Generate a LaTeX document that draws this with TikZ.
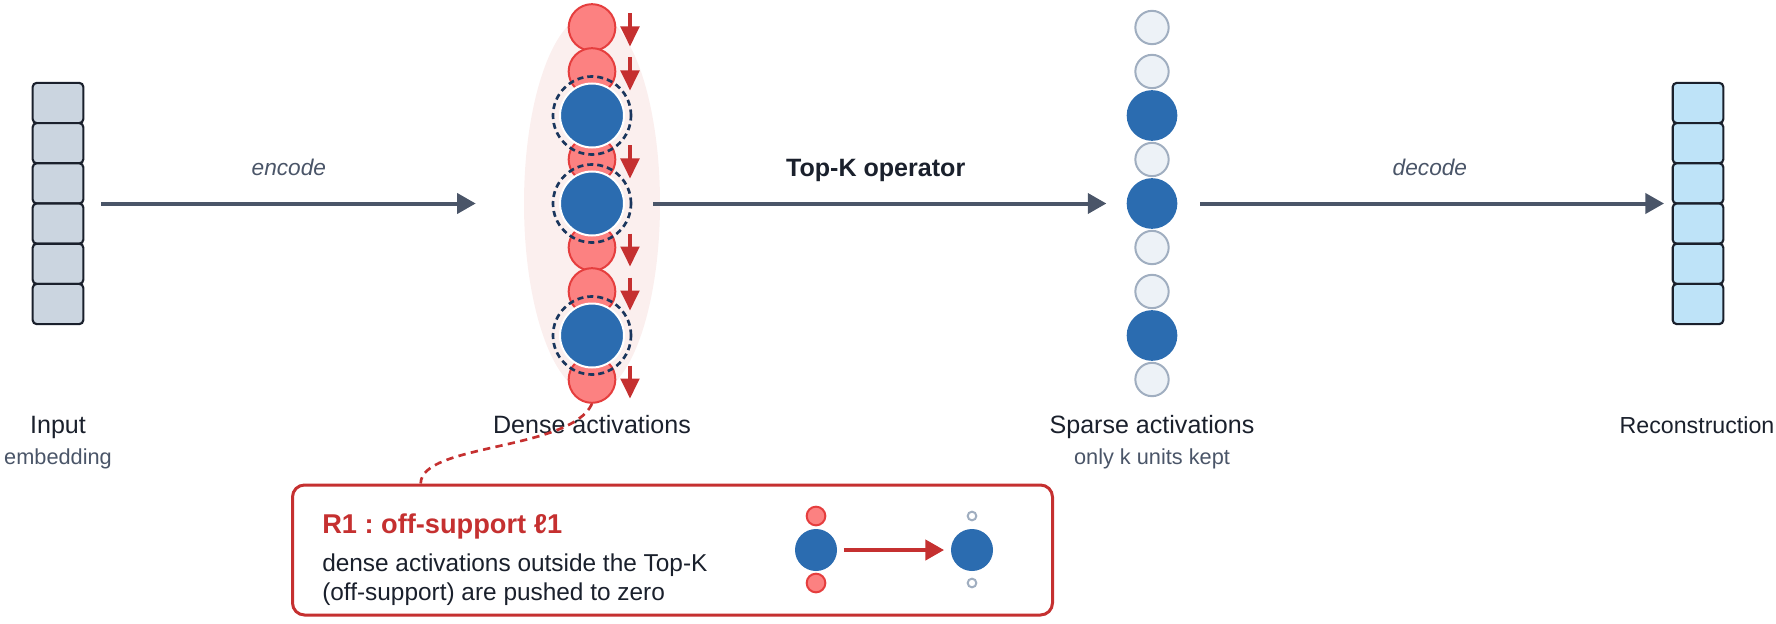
\documentclass[tikz,border=0pt]{standalone}
\usepackage{fontspec}
\setmainfont{Liberation Sans}
\frenchspacing
\usetikzlibrary{calc,shapes,arrows.meta,fit,positioning}

\definecolor{inkdark}{HTML}{1A202C}
\definecolor{inkgray}{HTML}{4A5568}
\definecolor{inpfill}{HTML}{CBD5E0}
\definecolor{recfill}{HTML}{BEE3F8}
\definecolor{redfill}{HTML}{FC8181}
\definecolor{redline}{HTML}{E53E3E}
\definecolor{reddark}{HTML}{C53030}
\definecolor{unitblue}{HTML}{2B6CB0}
\definecolor{ringnavy}{HTML}{1A365D}
\definecolor{offfill}{HTML}{EDF2F7}
\definecolor{offline}{HTML}{A0AEC0}
\definecolor{halofill}{HTML}{FBEFEE}

% six-cell vector, named #1 (cells #10..#15), centred at x=#2
\newcommand{\tikzVecStack}[3]{
  \foreach \i in {0,...,5}
    \node[cell,fill=#3] (#1\i) at (#2,103+40.2*\i) {};
  \node[fit=(#10)(#15),inner sep=0pt] (#1) {};
}

\tikzset{
  cell/.style={rectangle,draw=inkdark,line width=1.6pt,rounded corners=3pt,
    minimum width=38pt,minimum height=30.15pt,inner sep=0pt},
  halo/.style={ellipse,fill=halofill,minimum width=102pt,minimum height=285pt,inner sep=0pt},
  offunit/.style={circle,fill=redfill,draw=redline,line width=1.5pt,minimum size=35pt,inner sep=0pt},
  onunit/.style={circle,fill=unitblue,draw=white,line width=1.5pt,minimum size=48pt,inner sep=0pt},
  ring/.style={circle,draw=ringnavy,line width=2pt,dash pattern=on 4.5pt off 3pt,
    minimum size=58.5pt,inner sep=0pt},
  zerounit/.style={circle,fill=offfill,draw=offline,line width=1.5pt,minimum size=25pt,inner sep=0pt},
  keptunit/.style={circle,fill=unitblue,minimum size=38pt,inner sep=0pt},
  push/.style={draw=reddark,line width=2.3pt,-{Triangle[length=15pt,width=14pt]}},
  flow/.style={draw=inkgray,line width=3pt,-{Triangle[length=14pt,width=15pt]}},
  arrlab/.style={above=19pt,inner sep=0pt,font=\fontsize{17pt}{20pt}\selectfont},
  mainlab/.style={anchor=base,inner sep=0pt,text=inkdark,font=\fontsize{18.8pt}{22pt}\selectfont},
  sublab/.style={anchor=base,inner sep=0pt,text=inkgray,font=\fontsize{16.3pt}{19pt}\selectfont},
  callout/.style={rectangle,draw=reddark,fill=white,line width=2.25pt,rounded corners=9pt,
    minimum width=570pt,minimum height=97.5pt,inner sep=0pt},
  calldash/.style={draw=reddark,line width=2pt,dash pattern=on 5.5pt off 4pt},
  rtext/.style={anchor=base west,inner sep=0pt,text=inkdark,font=\fontsize{18.3pt}{21pt}\selectfont}
}

\begin{document}
\begin{tikzpicture}[x=0.75pt,y=-0.75pt]
  \useasboundingbox (0,0) rectangle (1776,624);

  % input and reconstruction vectors
  \tikzVecStack{inp}{58}{inpfill}
  \tikzVecStack{rec}{1698}{recfill}

  % dense activations
  \node[halo] (dense) at (592,203.5) {};
  \foreach \i in {0,1,3,5,6,8}
    \node[offunit] (d\i) at (592,27.5+44*\i) {};
  \foreach \i in {2,4,7} {
    \node[onunit] (d\i) at (592,27.5+44*\i) {};
    \node[ring] (ring\i) at (d\i) {};
  }
  \foreach \i in {0,1,3,5,6,8}
    \draw[push] ([shift={(38,-14)}]d\i.center) -- ++(0,33);

  % sparse activations
  \foreach \i in {0,1,3,5,6,8}
    \node[zerounit] (s\i) at (1152,27.5+44*\i) {};
  \foreach \i in {2,4,7}
    \node[keptunit] (s\i) at (1152,27.5+44*\i) {};

  % main flow
  \draw[flow,shorten <=12.5pt,shorten >=36pt] (inp.east) -- node[arrlab,pos=0.465,text=inkgray] {\itshape encode} (dense.west);
  \draw[flow,shorten <=21pt,shorten >=15pt] (d4.east) -- node[arrlab,above=15pt,text=inkdark] {\bfseries\fontsize{18.8pt}{22pt}\selectfont Top-K operator} (s4.west);
  \draw[flow,shorten <=17pt,shorten >=5.5pt] (s4.east) -- node[arrlab,pos=0.511,text=inkgray] {\itshape decode} (rec.west);

  % column labels
  \node[mainlab] (inlab) at (58,433) {Input};
  \node[sublab] (insub) at (58,464) {embedding};
  \node[mainlab] (denselab) at (592,433) {Dense activations};
  \node[mainlab] (sparselab) at (1152,433) {Sparse activations};
  \node[sublab] (sparsesub) at (1152,464) {only k units kept};
  \node[mainlab,font=\fontsize{17.4pt}{20pt}\selectfont] (reclab) at (1697,433) {Reconstruction};

  % R1 callout
  \node[callout] (rbox) at (672.5,550) {};
  \coordinate (rhook) at ($(rbox.north west)!0.17!(rbox.north east)$);
  \draw[calldash] (d8.south) .. controls +(-22,47) and +(0,-40) .. (rhook);
  \node[anchor=base west,inner sep=0pt,text=reddark,font=\bfseries\fontsize{20.4pt}{24pt}\selectfont]
    (r1title) at (322,533) {R1 : off-support ℓ1};
  \node[rtext] (r1line1) at (322,571) {dense activations outside the Top-K};
  \node[rtext] (r1line2) at (322,600) {(off-support) are pushed to zero};

  % small before/after sketch
  \node[circle,fill=unitblue,minimum size=31.5pt,inner sep=0pt] (mb1) at (816,550) {};
  \node[offunit,minimum size=14pt] (mr1) at (816,516) {};
  \node[offunit,minimum size=14pt] (mr2) at (816,583) {};
  \node[circle,fill=unitblue,minimum size=31.5pt,inner sep=0pt] (mb2) at (972,550) {};
  \node[zerounit,fill=white,minimum size=6.5pt] (mz1) at (972,516) {};
  \node[zerounit,fill=white,minimum size=6.5pt] (mz2) at (972,583) {};
  \draw[draw=reddark,line width=3pt,-{Triangle[length=14pt,width=15pt]},shorten <=5pt,shorten >=5pt] (mb1) -- (mb2);

\end{tikzpicture}
\end{document}
